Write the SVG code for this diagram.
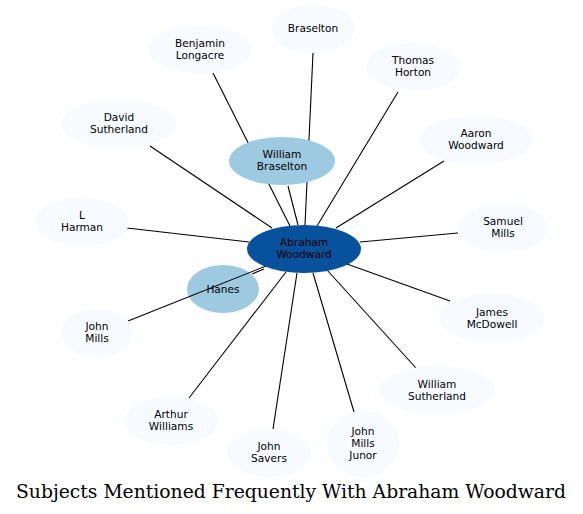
<svg xmlns="http://www.w3.org/2000/svg" width="583" height="514" viewBox="0 0 583 514">
<style>
.e{stroke:#000;stroke-width:1.1;fill:none}
.n ellipse{fill:#f7fbff;stroke:none}
.m ellipse{fill:#9ecae1;stroke:none}
.c ellipse{fill:#08519c;stroke:none}
text{font-family:"DejaVu Sans",sans-serif;font-size:10.6px;text-anchor:middle;fill:#000}
.t{font-family:"DejaVu Serif",serif;font-size:18px}
</style>
<rect width="583" height="514" fill="#fff"/>
<g id="edges">
<line class="e" x1="213" y1="73" x2="290" y2="226"/>
<line class="e" x1="313" y1="53" x2="305" y2="225"/>
<line class="e" x1="288" y1="186" x2="298" y2="225"/>
<line class="e" x1="398" y1="92" x2="317" y2="226"/>
<line class="e" x1="150" y1="146" x2="272" y2="228"/>
<line class="e" x1="444" y1="161" x2="336" y2="228"/>
<line class="e" x1="127" y1="228" x2="249" y2="242"/>
<line class="e" x1="458" y1="233" x2="360" y2="242"/>
<line class="e" x1="450" y1="301" x2="347" y2="264"/>
<line class="e" x1="416" y1="368" x2="327" y2="270"/>
<line class="e" x1="354" y1="412" x2="313" y2="273"/>
<line class="e" x1="273" y1="429" x2="297" y2="273"/>
<line class="e" x1="189" y1="398" x2="286" y2="272"/>
<line class="e" x1="252" y1="274" x2="264" y2="269"/>
</g>
<g id="william_braselton" class="m"><ellipse cx="282" cy="161" rx="53" ry="24"/><text x="282" y="158">William</text><text x="282" y="170">Braselton</text></g>
<g id="hanes" class="m"><ellipse cx="223" cy="289" rx="36" ry="24"/><text x="223" y="293">Hanes</text></g>
<g id="edge_john_mills"><line class="e" x1="128" y1="321" x2="266" y2="266"/></g>
<g id="abraham_woodward" class="c"><ellipse cx="304" cy="249" rx="57" ry="24"/><text x="304" y="246">Abraham</text><text x="304" y="258">Woodward</text></g>
<g id="braselton" class="n"><ellipse cx="313" cy="29" rx="42" ry="24"/><text x="313" y="32">Braselton</text></g>
<g id="benjamin_longacre" class="n"><ellipse cx="200" cy="49" rx="52" ry="24"/><text x="200" y="47">Benjamin</text><text x="200" y="59">Longacre</text></g>
<g id="thomas_horton" class="n"><ellipse cx="413" cy="67" rx="47" ry="24"/><text x="413" y="64">Thomas</text><text x="413" y="76">Horton</text></g>
<g id="david_sutherland" class="n"><ellipse cx="119" cy="124" rx="58" ry="24"/><text x="119" y="121">David</text><text x="119" y="133">Sutherland</text></g>
<g id="aaron_woodward" class="n"><ellipse cx="476" cy="140" rx="57" ry="24"/><text x="476" y="137">Aaron</text><text x="476" y="149">Woodward</text></g>
<g id="l_harman" class="n"><ellipse cx="82" cy="222" rx="47" ry="24"/><text x="82" y="219">L</text><text x="82" y="231">Harman</text></g>
<g id="samuel_mills" class="n"><ellipse cx="503" cy="228" rx="45" ry="24"/><text x="503" y="225">Samuel</text><text x="503" y="237">Mills</text></g>
<g id="james_mcdowell" class="n"><ellipse cx="492" cy="318" rx="53" ry="24"/><text x="492" y="316">James</text><text x="492" y="328">McDowell</text></g>
<g id="john_mills" class="n"><ellipse cx="97" cy="333" rx="36" ry="24"/><text x="97" y="330">John</text><text x="97" y="342">Mills</text></g>
<g id="william_sutherland" class="n"><ellipse cx="437" cy="390" rx="58" ry="24"/><text x="437" y="388">William</text><text x="437" y="400">Sutherland</text></g>
<g id="arthur_williams" class="n"><ellipse cx="171" cy="421" rx="47" ry="24"/><text x="171" y="418">Arthur</text><text x="171" y="430">Williams</text></g>
<g id="john_savers" class="n"><ellipse cx="269" cy="453" rx="42" ry="24"/><text x="269" y="450">John</text><text x="269" y="462">Savers</text></g>
<g id="john_mills_junor" class="n"><ellipse cx="363" cy="444" rx="36" ry="33"/><text x="363" y="435">John</text><text x="363" y="447">Mills</text><text x="363" y="459">Junor</text></g>
<text class="t" x="291" y="498" textLength="550" lengthAdjust="spacingAndGlyphs">Subjects Mentioned Frequently With Abraham Woodward</text>
</svg>
